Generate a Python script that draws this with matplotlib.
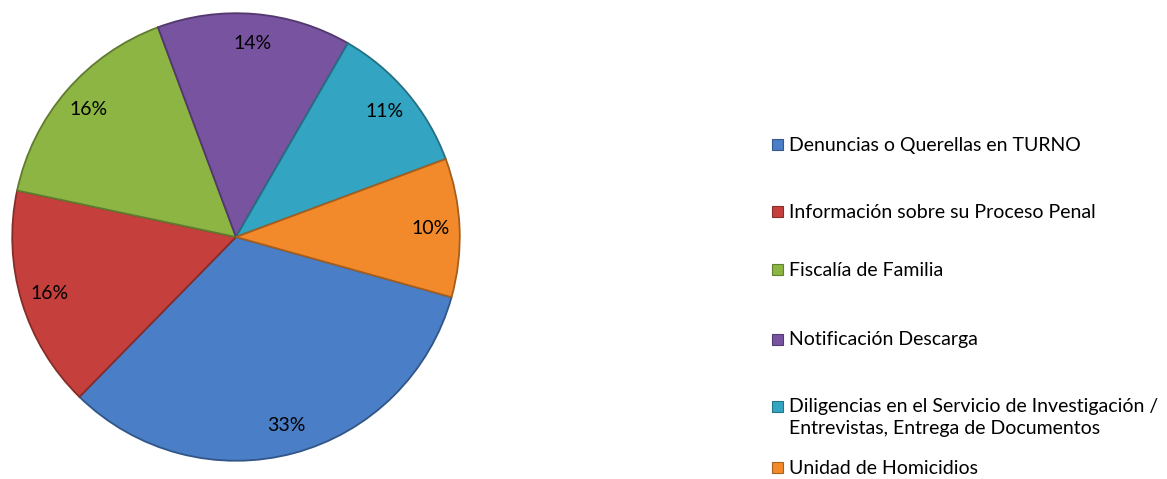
import matplotlib.pyplot as plt
from matplotlib.patches import Rectangle
import matplotlib.colors as mcolors

plt.rcParams['font.family'] = ['Lato', 'DejaVu Sans']

categories = ['Denuncias o Querellas en TURNO',
              'Información sobre su Proceso Penal',
              'Fiscalía de Familia',
              'Notificación Descarga',
              'Diligencias en el Servicio de Investigación /\nEntrevistas, Entrega de Documentos',
              'Unidad de Homicidios']
values = [33, 16, 16, 14, 11, 10]
colors = ['#4A7EC6', '#C5403D', '#8DB544', '#7853A0', '#33A5C2', '#F28A2B']

W, H = 1167, 479
fig = plt.figure(figsize=(W / 100, H / 100), dpi=100)


def shade(c, f):
    return tuple(v * f for v in mcolors.to_rgb(c))


# pie axes: centre (236, 237) px, radius 226 px
cx, cy, r = 236, 237, 226
ax = fig.add_axes([(cx - r) / W, 1 - (cy + r) / H, 2 * r / W, 2 * r / H])
wedges, texts, autotexts = ax.pie(values, colors=colors, startangle=-15.6, counterclock=False,
                                  autopct='%1.0f%%', pctdistance=0.87, radius=1,
                                  wedgeprops=dict(linewidth=1.3),
                                  textprops=dict(fontsize=14, color='black'))
for w, c in zip(wedges, colors):
    w.set_edgecolor(shade(c, 0.68))
ax.set_xlim(-1.01, 1.01)
ax.set_ylim(-1.01, 1.01)
ax.set_aspect('equal')
ax.axis('off')

# legend
rows_y = [145, 212, 270, 340, 407, 468]
for lab, c, y in zip(categories, colors, rows_y):
    fig.patches.append(Rectangle((772 / W, 1 - (y + 5) / H), 11 / W, 11 / H,
                                 transform=fig.transFigure, facecolor=c,
                                 edgecolor=shade(c, 0.7), linewidth=0.8))
    ty = y if '\n' not in lab else y + 10.5
    fig.text(789 / W, 1 - ty / H, lab, fontsize=14, va='center', ha='left', linespacing=1.3)

fig.savefig('out.png', dpi=100)
